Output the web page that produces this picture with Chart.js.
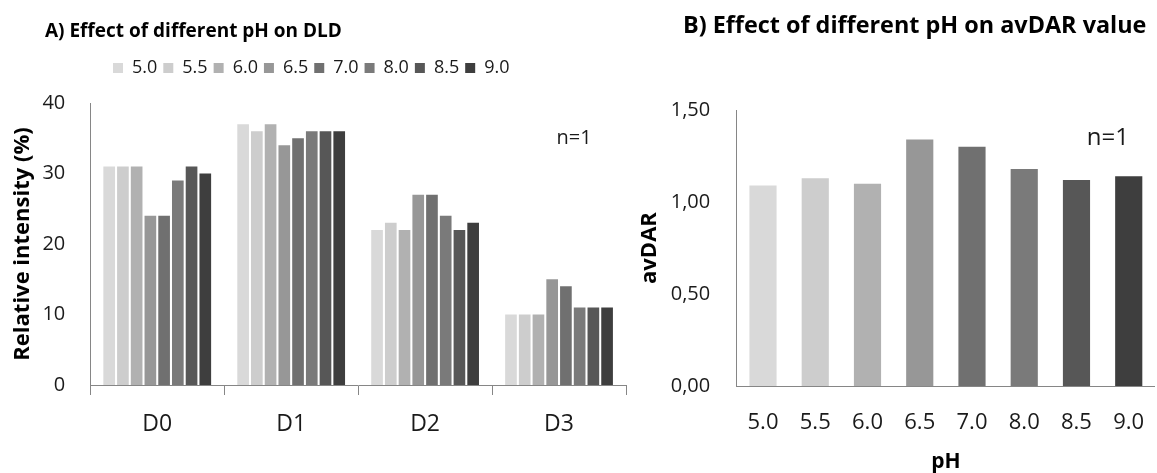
<!DOCTYPE html>
<html>
<head>
<meta charset="utf-8">
<script src="https://cdn.jsdelivr.net/npm/chart.js"></script>
<style>
    html, body { margin: 0; padding: 0; overflow: hidden; background: #fff; }
    #left { position: absolute; left: 0; top: 0; width: 640px; height: 473px; }
    #right { position: absolute; left: 640px; top: 0; width: 528px; height: 473px; }
</style>
</head>
<body>
<div id="left"><canvas id="dldChart"></canvas></div>
<div id="right"><canvas id="darChart"></canvas></div>
<script>
// categories
const groups = ['D0', 'D1', 'D2', 'D3'];
const phLevels = ['5.0', '5.5', '6.0', '6.5', '7.0', '8.0', '8.5', '9.0'];

// relative intensity (%) per pH, one array per DLD species
const d0 = [31, 31, 31, 24, 24, 29, 31, 30];
const d1 = [37, 36, 37, 34, 35, 36, 36, 36];
const d2 = [22, 23, 22, 27, 27, 24, 22, 23];
const d3 = [10, 10, 10, 15, 14, 11, 11, 11];

// average DAR per pH
const avDar = [1.09, 1.13, 1.10, 1.34, 1.30, 1.18, 1.12, 1.14];

const greys = ['#d9d9d9', '#cdcdcd', '#b1b1b1', '#979797', '#707070', '#7a7a7a', '#575757', '#3e3e3e'];
const axisGrey = '#868686';

Chart.defaults.font.family = "'Open Sans', sans-serif";
Chart.defaults.color = '#1a1a1a';

// pushes title / legend sideways and adds room under the legend
const boxShift = {
    id: 'boxShift',
    beforeInit(chart, args, opts) {
        if (!opts.legendGap) return;
        const fit = chart.legend.fit;
        chart.legend.fit = function () {
            fit.bind(chart.legend)();
            this.height += opts.legendGap;
        };
    },
    afterLayout(chart, args, opts) {
        if (chart.titleBlock && opts.title) {
            chart.titleBlock.left += opts.title;
            chart.titleBlock.right += opts.title;
        }
        if (chart.legend && opts.legend) {
            chart.legend.left += opts.legend;
            chart.legend.right += opts.legend;
        }
    }
};

// "n=1" note placed from the scales
const nNote = {
    id: 'nNote',
    afterDatasetsDraw(chart, args, opts) {
        const ctx = chart.ctx;
        const x = chart.chartArea.right + opts.dx;
        const y = chart.scales.y.getPixelForValue(opts.value);
        ctx.save();
        ctx.font = opts.size + "px 'Open Sans', sans-serif";
        ctx.fillStyle = '#1a1a1a';
        ctx.textAlign = 'center';
        ctx.textBaseline = 'middle';
        ctx.fillText(opts.text, x, y);
        ctx.restore();
    }
};

const dldDatasets = phLevels.map((ph, i) => ({
    label: ph,
    data: [d0[i], d1[i], d2[i], d3[i]],
    backgroundColor: greys[i],
    borderWidth: 0,
    categoryPercentage: 0.82,
    barPercentage: 0.85
}));

new Chart(document.getElementById('dldChart'), {
    type: 'bar',
    data: { labels: groups, datasets: dldDatasets },
    options: {
        responsive: true,
        maintainAspectRatio: false,
        animation: false,
        layout: { padding: { left: 0, right: 14, top: 0, bottom: 20 } },
        plugins: {
            title: {
                display: true,
                text: 'A) Effect of different pH on DLD',
                align: 'start',
                color: '#000',
                font: { size: 19, weight: 'bold', lineHeight: 1.2 },
                padding: { top: 20, bottom: 10.2 }
            },
            legend: {
                position: 'top',
                align: 'start',
                labels: {
                    boxWidth: 10,
                    boxHeight: 10,
                    padding: 6,
                    color: '#1a1a1a',
                    font: { size: 18 }
                }
            },
            tooltip: { enabled: false },
            boxShift: { title: 45, legend: 107, legendGap: 16 },
            nNote: { text: 'n=1', value: 35, dx: -52, size: 20 }
        },
        scales: {
            x: {
                grid: {
                    display: true,
                    drawOnChartArea: false,
                    drawTicks: true,
                    tickLength: 10,
                    color: axisGrey,
                    offset: true
                },
                border: { display: true, color: axisGrey },
                ticks: { font: { size: 23 }, padding: 15.2, color: '#1a1a1a' }
            },
            y: {
                min: 0,
                max: 40,
                grid: { display: false, drawTicks: false },
                border: { display: true, color: axisGrey },
                ticks: { stepSize: 10, font: { size: 20 }, padding: 25, color: '#1a1a1a' },
                title: {
                    display: true,
                    text: 'Relative intensity (%)',
                    color: '#000',
                    font: { size: 22, weight: 'bold', lineHeight: 1.2 },
                    padding: { top: 9.3, bottom: -18.3 }
                }
            }
        }
    },
    plugins: [boxShift, nNote]
});

new Chart(document.getElementById('darChart'), {
    type: 'bar',
    data: {
        labels: phLevels,
        datasets: [{
            label: 'avDAR',
            data: avDar,
            backgroundColor: greys,
            borderWidth: 0,
            categoryPercentage: 1.0,
            barPercentage: 0.52
        }]
    },
    options: {
        responsive: true,
        maintainAspectRatio: false,
        animation: false,
        layout: { padding: 0 },
        plugins: {
            title: {
                display: true,
                text: 'B) Effect of different pH on avDAR value',
                align: 'start',
                color: '#000',
                font: { size: 23.4, weight: 'bold', lineHeight: 1.2 },
                padding: { top: 12, bottom: 70 }
            },
            legend: { display: false },
            tooltip: { enabled: false },
            boxShift: { title: 43 },
            nNote: { text: 'n=1', value: 1.35, dx: -47, size: 24 }
        },
        scales: {
            x: {
                grid: { display: false, drawTicks: false },
                border: { display: true, color: axisGrey },
                ticks: { font: { size: 22 }, padding: 23.8, color: '#1a1a1a' },
                title: {
                    display: true,
                    text: 'pH',
                    color: '#000',
                    font: { size: 21, weight: 'bold', lineHeight: 1 },
                    padding: { top: -8, bottom: 0 }
                }
            },
            y: {
                min: 0,
                max: 1.5,
                grid: { display: false, drawTicks: false },
                border: { display: true, color: axisGrey },
                ticks: {
                    stepSize: 0.5,
                    font: { size: 20 },
                    padding: 26.7,
                    color: '#1a1a1a',
                    callback: (v) => v.toFixed(2).replace('.', ',')
                },
                title: {
                    display: true,
                    text: 'avDAR',
                    color: '#000',
                    font: { size: 22, weight: 'bold', lineHeight: 1 },
                    padding: { top: -1, bottom: -17 }
                }
            }
        }
    },
    plugins: [boxShift, nNote]
});
</script>
</body>
</html>
